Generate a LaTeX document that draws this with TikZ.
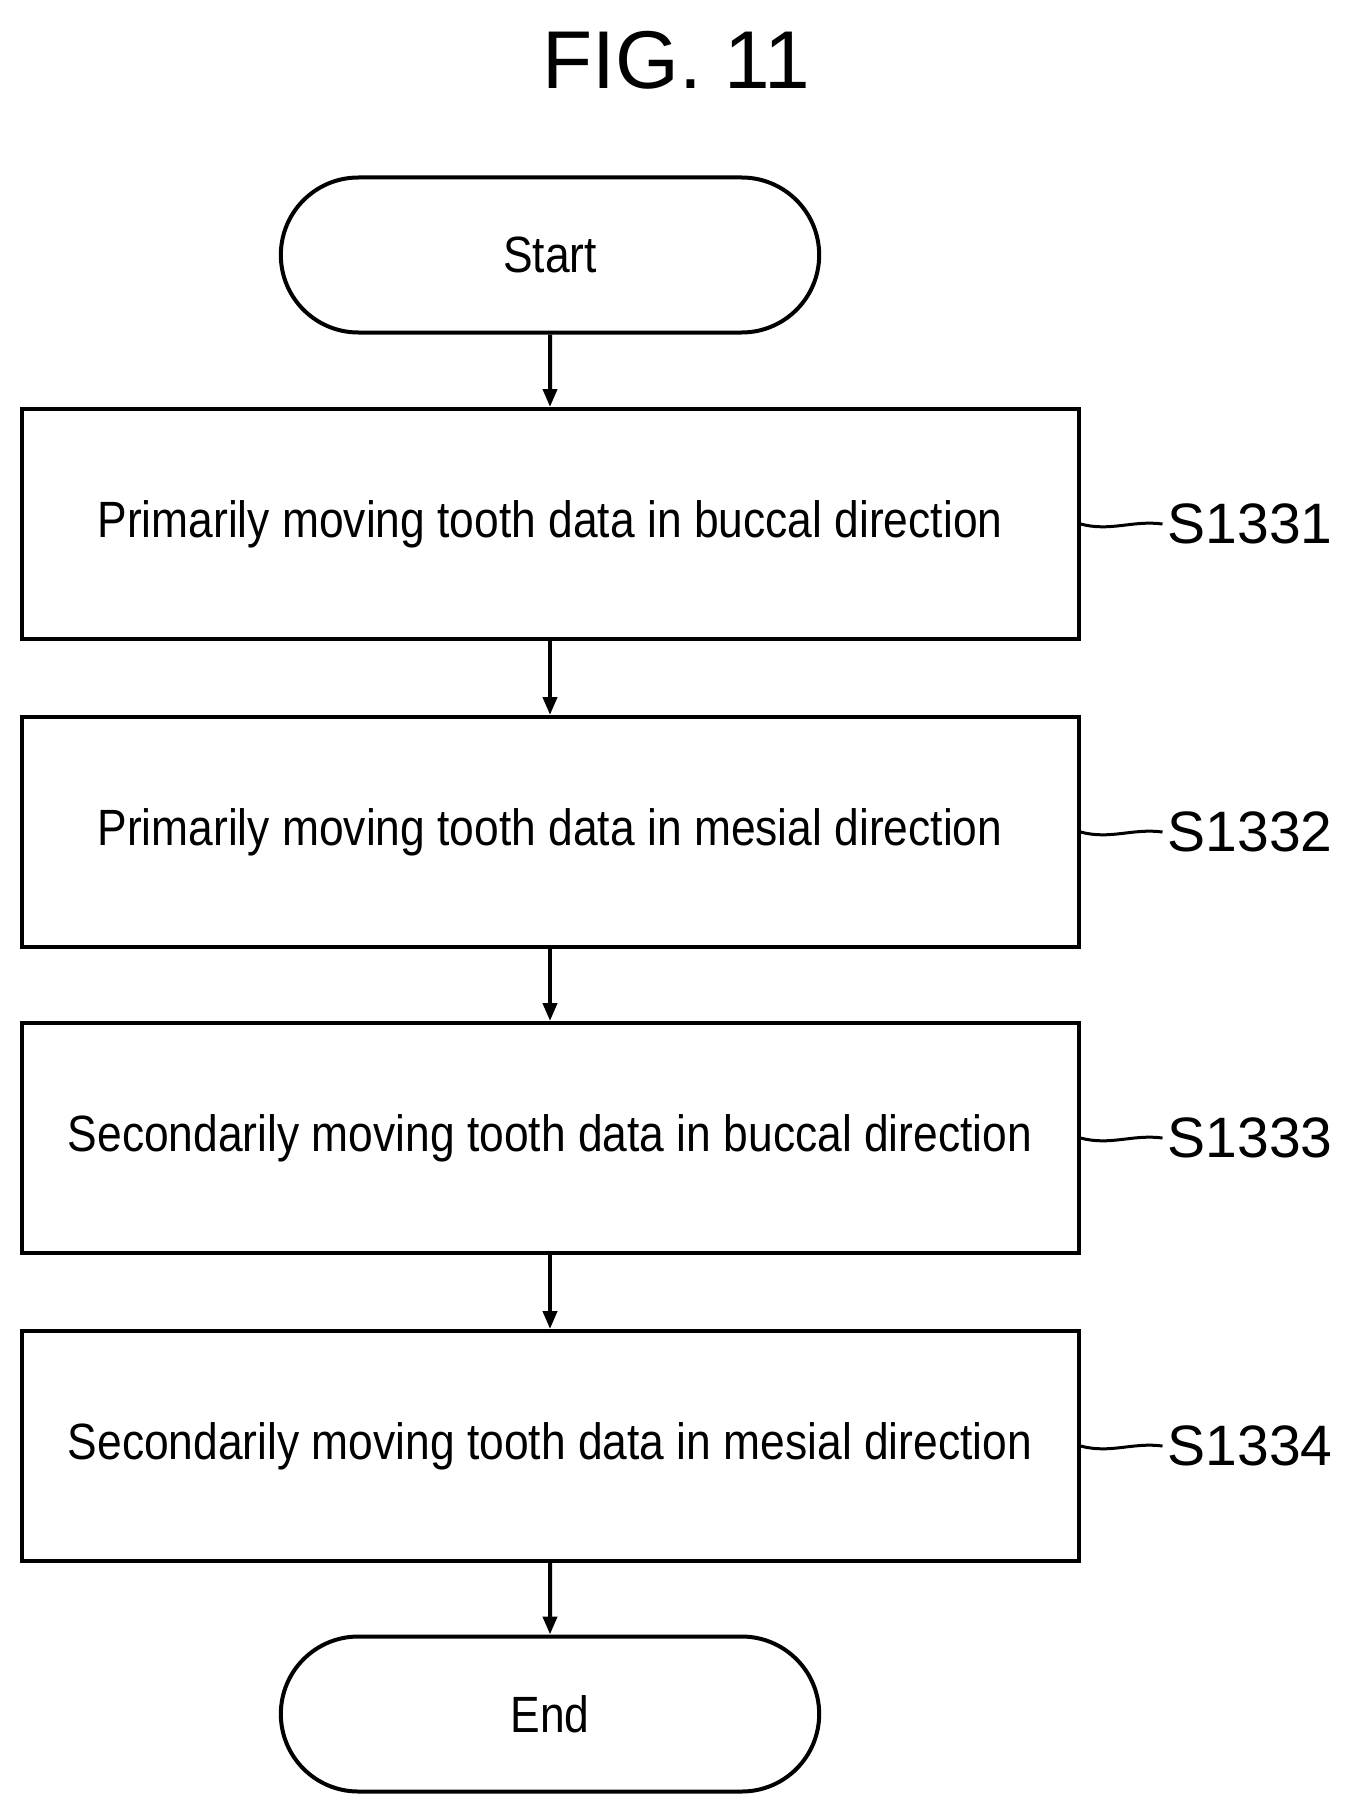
\documentclass[tikz,border=0pt]{standalone}
\usepackage{fontspec}
\setmainfont{Liberation Sans}
\usetikzlibrary{arrows.meta, positioning, shapes.misc}

\begin{document}
\begin{tikzpicture}[x=1pt, y=-1pt, line width=4pt,
  stepbox/.style={draw, minimum width=1057pt, minimum height=230pt, font=\fontsize{51}{56}\selectfont},
  term/.style={draw, rounded rectangle, minimum width=545pt, minimum height=155pt, font=\fontsize{51}{56}\selectfont},
  lbl/.style={font=\fontsize{57}{62}\selectfont, anchor=west},
  flow/.style={-{Triangle[length=18pt, width=14pt]}}]
\useasboundingbox (0,0) rectangle (1350,1811);
\node[font=\fontsize{82}{90}\selectfont] (title) at (676,60) {FIG. 11};
\path (550,255) node[term] (start) {\scalebox{0.87}[1]{Start}}
      (550,524) node[stepbox] (s1) {\scalebox{0.87}[1]{Primarily moving tooth data in buccal direction}}
      (550,832) node[stepbox] (s2) {\scalebox{0.87}[1]{Primarily moving tooth data in mesial direction}}
      (550,1138) node[stepbox] (s3) {\scalebox{0.87}[1]{Secondarily moving tooth data in buccal direction}}
      (550,1446) node[stepbox] (s4) {\scalebox{0.87}[1]{Secondarily moving tooth data in mesial direction}}
      (550,1714) node[term] (end) {\scalebox{0.87}[1]{End}};

\draw[flow] (start) -- (s1);
\draw[flow] (s1) -- (s2);
\draw[flow] (s2) -- (s3);
\draw[flow] (s3) -- (s4);
\draw[flow] (s4) -- (end);

\foreach \n/\t in {s1/S1331, s2/S1332, s3/S1333, s4/S1334} {
  \node[lbl] (l\n) at ([xshift=82pt]\n.east) {\t};
  \draw[line width=3pt] (\n.east) .. controls +(30,8) and +(-30,-4) .. (l\n.west);
}
\end{tikzpicture}
\end{document}
